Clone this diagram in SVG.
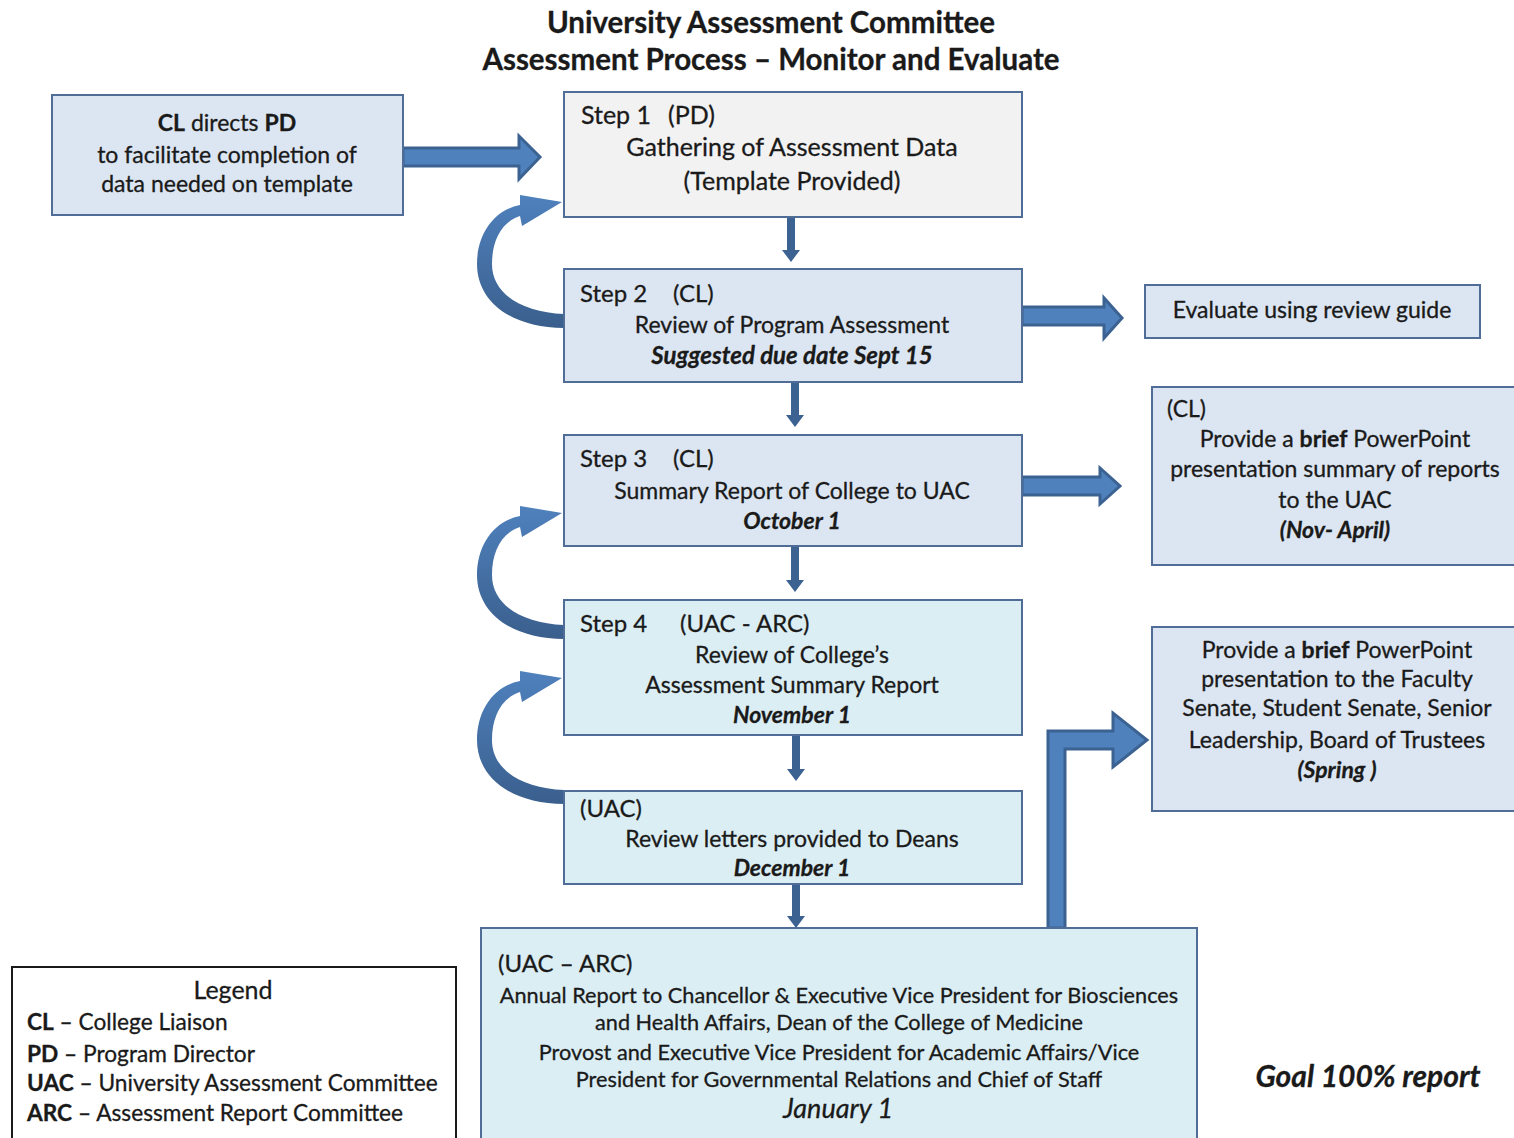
<svg xmlns="http://www.w3.org/2000/svg" width="1514" height="1138" viewBox="0 0 1514 1138">
<style>
text{font-family:Lato,"Liberation Sans",sans-serif;fill:#1a1a1a;font-size:23px;stroke:#1a1a1a;stroke-width:0.3}
.c{text-anchor:middle}
.b{font-weight:bold}
.bi{font-weight:bold;font-style:italic}
.i{font-style:italic}
.title{font-size:29.5px;font-weight:bold;text-anchor:middle}
.box{stroke:#4f6d97;stroke-width:2}
.blue{fill:#dce6f2}
.grey{fill:#f2f2f2}
.cyan{fill:#dbeef4}
.blk{fill:#4f81bd;stroke:#3b6291;stroke-width:3;stroke-linejoin:miter}
.dn{fill:#3b6291}
.crv{fill:url(#cg)}
</style>
<defs>
<linearGradient id="cg" x1="0" y1="0" x2="0" y2="1">
<stop offset="0" stop-color="#4f81bd"/>
<stop offset="1" stop-color="#3a5f8d"/>
</linearGradient>
<path id="curve" d="M2,112 C-40,110 -70,92 -70,62 C-70,38 -60,20 -42,14 L-40,24 L0,0 L-42,-7 L-42,3 C-68,8 -85,32 -85,62 C-85,100 -50,126 2,126 Z"/>
<clipPath id="decclip"><rect x="560" y="850" width="470" height="27"/></clipPath>
</defs>
<rect width="1514" height="1138" fill="#ffffff"/>

<text class="title" x="771" y="33">University Assessment Committee</text>
<text class="title" x="771" y="70">Assessment Process – Monitor and Evaluate</text>

<g id="connectors">
<polygon class="blk" points="403,148 519,148 519,136 540,157 519,179 519,166 403,166"/>
<polygon class="blk" points="1022,307 1104,307 1104,298 1122,318 1104,338 1104,325 1022,325"/>
<polygon class="blk" points="1022,477 1100,477 1100,468 1120,486 1100,504 1100,495 1022,495"/>
<polygon class="blk" points="1048,928 1048,731 1113,731 1113,713 1147,740 1113,767 1113,749 1065,749 1065,928"/>
<polygon class="dn" points="787,218 795,218 795,250 800,250 791,262 782,250 787,250"/>
<polygon class="dn" points="791,383 799,383 799,415 804,415 795,427 786,415 791,415"/>
<polygon class="dn" points="791,547 799,547 799,580 804,580 795,592 786,580 791,580"/>
<polygon class="dn" points="792,736 800,736 800,769 805,769 796,781 787,769 792,769"/>
<polygon class="dn" points="792,885 800,885 800,916 805,916 796,928 787,916 792,916"/>
<use href="#curve" class="crv" transform="translate(562,202)"/>
<use href="#curve" class="crv" transform="translate(562,513)"/>
<use href="#curve" class="crv" transform="translate(562,678)"/>
</g>

<g id="cl-directs">
<rect class="box blue" x="52" y="95" width="351" height="120"/>
<text class="c" x="227" y="131"><tspan class="b">CL</tspan> directs <tspan class="b">PD</tspan></text>
<text class="c" x="227" y="163">to facilitate completion of</text>
<text class="c" x="227" y="192">data needed on template</text>
</g>

<g id="step1">
<rect class="box grey" x="564" y="92" width="458" height="125"/>
<text x="581" y="124" style="font-size:25px">Step 1</text>
<text x="668" y="124" style="font-size:25px">(PD)</text>
<text class="c" x="792" y="156" style="font-size:25px">Gathering of Assessment Data</text>
<text class="c" x="792" y="190" style="font-size:25px">(Template Provided)</text>
</g>

<g id="step2">
<rect class="box blue" x="564" y="269" width="458" height="113"/>
<text x="580" y="302" style="font-size:24px">Step 2</text>
<text x="673" y="302" style="font-size:24px">(CL)</text>
<text class="c" x="792" y="333">Review of Program Assessment</text>
<text class="c bi" x="792" y="364" style="font-size:24px">Suggested due date Sept 15</text>
</g>

<g id="step3">
<rect class="box blue" x="564" y="435" width="458" height="111"/>
<text x="580" y="467" style="font-size:24px">Step 3</text>
<text x="673" y="467" style="font-size:24px">(CL)</text>
<text class="c" x="792" y="499">Summary Report of College to UAC</text>
<text class="c bi" x="792" y="529">October 1</text>
</g>

<g id="step4">
<rect class="box cyan" x="564" y="600" width="458" height="135"/>
<text x="580" y="632" style="font-size:24px">Step 4</text>
<text x="680" y="632" style="font-size:24px">(UAC - ARC)</text>
<text class="c" x="792" y="663">Review of College’s</text>
<text class="c" x="792" y="693">Assessment Summary Report</text>
<text class="c bi" x="792" y="723">November 1</text>
</g>

<g id="review-letters">
<rect class="box cyan" x="564" y="791" width="458" height="93"/>
<text x="580" y="817" style="font-size:24px">(UAC)</text>
<text class="c" x="792" y="847">Review letters provided to Deans</text>
<text class="c bi" x="792" y="876" clip-path="url(#decclip)">December 1</text>
</g>

<g id="annual-report">
<rect class="box cyan" x="481" y="928" width="716" height="212"/>
<text x="498" y="972" style="font-size:24px">(UAC – ARC)</text>
<text class="c" x="839" y="1003" style="font-size:21.7px">Annual Report to Chancellor &amp; Executive Vice President for Biosciences</text>
<text class="c" x="839" y="1030" style="font-size:21.7px">and Health Affairs, Dean of the College of Medicine</text>
<text class="c" x="839" y="1060" style="font-size:21.7px">Provost and Executive Vice President for Academic Affairs/Vice</text>
<text class="c" x="839" y="1087" style="font-size:21.7px">President for Governmental Relations and Chief of Staff</text>
<text class="c i" x="838" y="1118" style="font-size:27px">January 1</text>
</g>

<g id="evaluate">
<rect class="box blue" x="1145" y="285" width="335" height="53"/>
<text class="c" x="1312" y="318">Evaluate using review guide</text>
</g>

<g id="cl-powerpoint">
<rect class="box blue" x="1152" y="387" width="370" height="178"/>
<text x="1167" y="417">(CL)</text>
<text class="c" x="1335" y="447">Provide a <tspan class="b">brief</tspan> PowerPoint</text>
<text class="c" x="1335" y="477">presentation summary of reports</text>
<text class="c" x="1335" y="508">to the UAC</text>
<text class="c bi" x="1335" y="538">(Nov- April)</text>
</g>

<g id="senate-powerpoint">
<rect class="box blue" x="1152" y="627" width="370" height="184"/>
<text class="c" x="1337" y="658">Provide a <tspan class="b">brief</tspan> PowerPoint</text>
<text class="c" x="1337" y="687">presentation to the Faculty</text>
<text class="c" x="1337" y="716">Senate, Student Senate, Senior</text>
<text class="c" x="1337" y="748">Leadership, Board of Trustees</text>
<text class="c bi" x="1337" y="778">(Spring )</text>
</g>

<g id="legend">
<rect x="12" y="967" width="444" height="175" fill="#ffffff" stroke="#1a1a1a" stroke-width="2"/>
<text class="c" x="233" y="999" style="font-size:25px">Legend</text>
<text x="27" y="1030" style="font-size:22.7px"><tspan class="b">CL</tspan> – College Liaison</text>
<text x="27" y="1062" style="font-size:22.7px"><tspan class="b">PD</tspan> – Program Director</text>
<text x="27" y="1091" style="font-size:22.7px"><tspan class="b">UAC</tspan> – University Assessment Committee</text>
<text x="27" y="1121" style="font-size:22.7px"><tspan class="b">ARC</tspan> – Assessment Report Committee</text>
</g>

<g id="goal">
<text class="c bi" x="1368" y="1087" style="font-size:30px">Goal 100% report</text>
</g>
</svg>
